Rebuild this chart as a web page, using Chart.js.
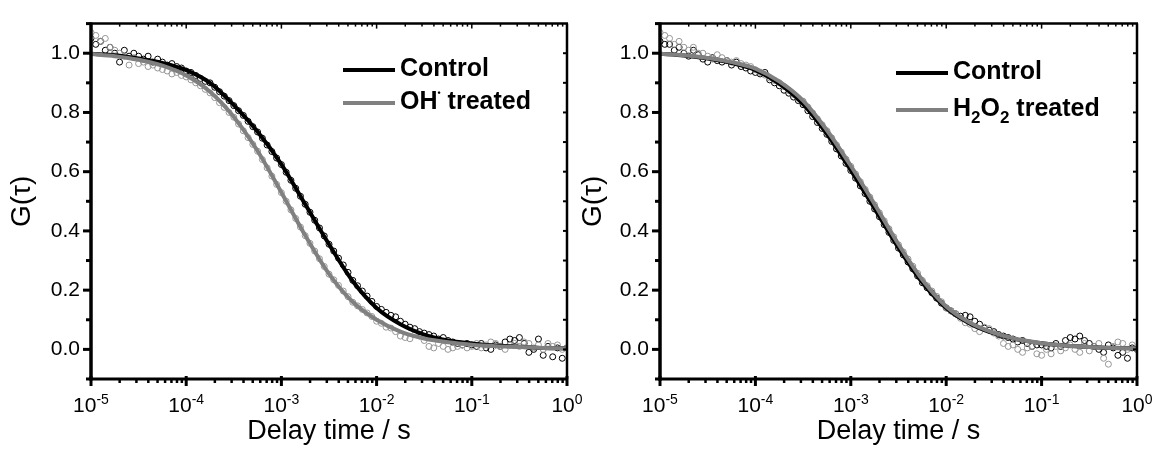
<!DOCTYPE html>
<html>
<head>
<meta charset="utf-8">
<script src="https://cdn.jsdelivr.net/npm/chart.js@4.4.0/dist/chart.umd.min.js"></script>
<style>
  html, body { margin: 0; padding: 0; background: #fff; }
  #wrap { position: relative; width: 1159px; height: 450px; }
  .panel { position: absolute; top: 0; height: 450px; }
  #left { left: 0; width: 600px; }
  #right { left: 579px; width: 580px; }
</style>
</head>
<body>
<div id="wrap">
  <div class="panel" id="left"><canvas id="chartLeft"></canvas></div>
  <div class="panel" id="right"><canvas id="chartRight"></canvas></div>
</div>
<script>
// 坐标轴刻度
const decadeTicks = [1e-5, 1e-4, 1e-3, 1e-2, 1e-1, 1];
const decadeExponents = ["-5", "-4", "-3", "-2", "-1", "0"];
const yTickValues = [0, 0.2, 0.4, 0.6, 0.8, 1.0];
const yTickLabels = ["0.0", "0.2", "0.4", "0.6", "0.8", "1.0"];

// 拟合曲线 (log10 延迟时间, 每 1/4 个数量级)
const fitLogTimes = [-5, -4.75, -4.5, -4.25, -4, -3.75, -3.5, -3.25, -3, -2.75, -2.5,
  -2.25, -2, -1.75, -1.5, -1.25, -1, -0.75, -0.5, -0.25, 0];
const leftControlFit = [0.998, 0.993, 0.982, 0.967, 0.943, 0.900, 0.825, 0.735, 0.625, 0.490, 0.355,
  0.230, 0.140, 0.085, 0.050, 0.030, 0.020, 0.013, 0.009, 0.005, 0.003];
const leftTreatedFit = [0.997, 0.990, 0.978, 0.958, 0.925, 0.870, 0.785, 0.670, 0.530, 0.385, 0.255,
  0.160, 0.100, 0.060, 0.037, 0.024, 0.016, 0.011, 0.008, 0.005, 0.003];
const rightControlFit = [0.998, 0.992, 0.982, 0.967, 0.943, 0.897, 0.828, 0.727, 0.605, 0.475, 0.343,
  0.226, 0.140, 0.087, 0.054, 0.033, 0.021, 0.013, 0.008, 0.005, 0.003];
const rightTreatedFit = [0.998, 0.993, 0.984, 0.970, 0.948, 0.905, 0.840, 0.740, 0.620, 0.490, 0.355,
  0.235, 0.145, 0.090, 0.056, 0.034, 0.021, 0.013, 0.008, 0.005, 0.003];

// 测量数据 (1e-5 .. 1 s, 每 0.05 个数量级一个点)
const dataLogStep = 0.05;
const leftControlData = [
  1.05, 1.03, 1.04, 1.01, 1.02, 1.00, 0.97, 1.01, 0.99, 1.00,
  0.99, 0.98, 0.99, 0.97, 0.98, 0.97, 0.96, 0.965, 0.955, 0.95,
  0.94, 0.935, 0.925, 0.915, 0.905, 0.90, 0.885, 0.87, 0.855, 0.84,
  0.823, 0.806, 0.79, 0.77, 0.752, 0.734, 0.713, 0.69, 0.668, 0.646,
  0.624, 0.598, 0.571, 0.544, 0.517, 0.49, 0.463, 0.436, 0.41, 0.383,
  0.355, 0.332, 0.308, 0.285, 0.26, 0.233, 0.215, 0.197, 0.18, 0.162,
  0.145, 0.135, 0.125, 0.115, 0.11, 0.095, 0.085, 0.075, 0.07, 0.06,
  0.055, 0.05, 0.045, 0.035, 0.04, 0.03, 0.025, 0.02, 0.015, 0.02,
  0.015, 0.01, 0.02, 0.005, 0.0, 0.015, 0.01, 0.025, 0.035, 0.03,
  0.04, 0.02, -0.01, 0.0, 0.035, -0.02, 0.01, -0.025, 0.005, -0.03,
  0.005];
const leftTreatedData = [
  1.07, 1.06, 1.04, 1.05, 1.02, 1.01, 1.0, 0.99, 0.96, 0.985,
  0.965, 0.97, 0.955, 0.96, 0.95, 0.945, 0.94, 0.93, 0.935, 0.925,
  0.92, 0.91, 0.90, 0.89, 0.878, 0.866, 0.85, 0.833, 0.817, 0.80,
  0.784, 0.761, 0.738, 0.715, 0.692, 0.669, 0.641, 0.613, 0.585, 0.557,
  0.529, 0.5, 0.471, 0.442, 0.413, 0.384, 0.358, 0.332, 0.306, 0.28,
  0.254, 0.235, 0.216, 0.197, 0.178, 0.159, 0.147, 0.135, 0.123, 0.111,
  0.095, 0.088, 0.075, 0.072, 0.06, 0.045, 0.04, 0.036, 0.05, 0.045,
  0.03, 0.01, 0.005, 0.02, 0.01, 0.0, 0.005, 0.01, 0.015, 0.005,
  0.01, 0.02, 0.005, 0.015, 0.025, 0.02, 0.01, 0.0, 0.015, 0.02,
  0.01, 0.025, 0.02, 0.005, 0.015, 0.0, 0.02, 0.01, 0.015, 0.0,
  0.005];
const rightControlData = [
  1.04, 1.03, 1.03, 1.01, 1.02, 1.0, 0.99, 1.01, 0.995, 0.98,
  0.97, 0.985, 0.975, 0.97, 0.975, 0.96, 0.97, 0.955, 0.95, 0.94,
  0.935, 0.93, 0.935, 0.91, 0.9, 0.89, 0.875, 0.865, 0.852, 0.84,
  0.826, 0.806, 0.786, 0.766, 0.746, 0.726, 0.702, 0.677, 0.653, 0.628,
  0.604, 0.578, 0.552, 0.526, 0.5, 0.474, 0.448, 0.421, 0.395, 0.368,
  0.342, 0.319, 0.295, 0.272, 0.248, 0.225, 0.208, 0.191, 0.173, 0.156,
  0.14, 0.13, 0.12, 0.112, 0.115, 0.11, 0.095, 0.085, 0.072, 0.065,
  0.06, 0.05, 0.045, 0.04, 0.035, 0.025, 0.03, 0.02, 0.01, 0.015,
  0.015, 0.01, 0.005, 0.02, 0.01, 0.03, 0.04, 0.035, 0.045, 0.03,
  0.02, 0.01, 0.0, -0.01, 0.015, 0.005, -0.02, -0.01, -0.03, 0.005,
  0.0];
const rightTreatedData = [
  1.07, 1.06, 1.05, 1.03, 1.04, 1.02, 1.01, 1.02, 1.0, 1.0,
  0.99, 0.98, 0.995, 0.985, 0.975, 0.97, 0.975, 0.965, 0.96, 0.955,
  0.944, 0.935, 0.926, 0.917, 0.908, 0.9, 0.887, 0.874, 0.861, 0.848,
  0.838, 0.818, 0.798, 0.778, 0.758, 0.738, 0.714, 0.69, 0.666, 0.642,
  0.618, 0.592, 0.566, 0.54, 0.514, 0.488, 0.461, 0.434, 0.407, 0.38,
  0.353, 0.329, 0.305, 0.281, 0.257, 0.233, 0.215, 0.197, 0.179, 0.161,
  0.14, 0.13, 0.12, 0.105, 0.09, 0.085, 0.07, 0.06, 0.075, 0.07,
  0.055, 0.045, 0.02, 0.01, 0.015, 0.0, -0.01, 0.005, 0.01, -0.015,
  -0.02, 0.0, -0.015, 0.01, -0.005, 0.005, 0.015, 0.0, -0.01, 0.02,
  -0.005, 0.01, 0.02, -0.03, -0.05, 0.01, 0.025, 0.02, 0.0, 0.015,
  0.0];

const FONT = "'Liberation Sans', Arial, sans-serif";
const BLACK = "#000000";
const GRAY = "rgb(128,128,128)";
const GRAY_DOT = "rgb(150,150,150)";

const fitTimes = fitLogTimes.map((e) => Math.pow(10, e));
const dataTimes = leftControlData.map((_, i) => Math.pow(10, -5 + i * dataLogStep));

function toPoints(xs, ys) {
  return ys.map((y, i) => ({ x: xs[i], y: y }));
}

// 画带上下标的文字
function drawRich(ctx, parts, x, y) {
  let cx = x;
  parts.forEach((p) => {
    ctx.font = p.font;
    ctx.fillText(p.text, cx, y + (p.dy || 0));
    cx += ctx.measureText(p.text).width;
  });
  return cx;
}

// 边框、刻度、x 轴标签和图例
function framePlugin(panel) {
  return {
    id: "frame",
    afterDraw(chart) {
      const { ctx, chartArea: a, scales } = chart;
      const x = scales.x;
      const y = scales.y;
      ctx.save();
      ctx.strokeStyle = BLACK;
      ctx.fillStyle = BLACK;
      ctx.lineCap = "butt";

      function seg(x1, y1, x2, y2, w) {
        ctx.lineWidth = w;
        ctx.beginPath();
        ctx.moveTo(x1, y1);
        ctx.lineTo(x2, y2);
        ctx.stroke();
      }

      // 边框
      seg(a.left, a.top - 1, a.left, a.bottom + 1.5, 3.5);
      seg(a.left - 1.5, a.bottom, a.right + 1, a.bottom, 3);
      seg(a.left, a.top, a.right + 1, a.top, 2.5);
      seg(a.right, a.top, a.right, a.bottom, 2.5);

      // y 轴刻度
      for (let k = -1; k <= 11; k++) {
        const v = k / 10;
        const py = y.getPixelForValue(v);
        const major = k >= 0 && k % 2 === 0 && k <= 10;
        seg(a.left - (major ? 8 : 5), py, a.left, py, 3);
        if (k >= 0 && k <= 10) seg(a.right - 4, py, a.right, py, 2);
      }

      // x 轴刻度
      decadeTicks.forEach((t, i) => {
        const px = x.getPixelForValue(t);
        seg(px, a.bottom - 3, px, a.bottom + 7, 3);
        seg(px, a.top, px, a.top + 5, 1.5);
        if (i < decadeTicks.length - 1) {
          for (let m = 2; m <= 9; m++) {
            const mx = x.getPixelForValue(t * m);
            seg(mx, a.bottom, mx, a.bottom + 4, 2.5);
            seg(mx, a.top, mx, a.top + 3, 1.5);
          }
        }
      });

      // x 轴标签 10^n
      ctx.textBaseline = "alphabetic";
      ctx.textAlign = "left";
      decadeTicks.forEach((t, i) => {
        const px = x.getPixelForValue(t);
        ctx.font = "21px " + FONT;
        const w1 = ctx.measureText("10").width;
        ctx.font = "14px " + FONT;
        const w2 = ctx.measureText(decadeExponents[i]).width;
        const sx = px - (w1 + w2) / 2;
        drawRich(ctx, [
          { text: "10", font: "21px " + FONT },
          { text: decadeExponents[i], font: "14px " + FONT, dy: -8 },
        ], sx, a.bottom + 33);
      });

      // 图例
      ctx.textBaseline = "middle";
      panel.legend.forEach((item) => {
        ctx.strokeStyle = item.color;
        seg(panel.legendX, item.y, panel.legendX + 52, item.y, 4);
        ctx.fillStyle = BLACK;
        drawRich(ctx, item.parts, panel.legendX + 57, item.y - 1);
      });
      ctx.restore();
    },
  };
}

function buildPanel(canvasId, panel) {
  const ctx = document.getElementById(canvasId).getContext("2d");
  return new Chart(ctx, {
    type: "scatter",
    data: {
      datasets: [
        {
          label: panel.legend[1].label + " fit",
          data: toPoints(fitTimes, panel.treatedFit),
          showLine: true,
          borderColor: GRAY,
          borderWidth: 4,
          pointRadius: 0,
          cubicInterpolationMode: "monotone",
          order: 0,
        },
        {
          label: "Control fit",
          data: toPoints(fitTimes, panel.controlFit),
          showLine: true,
          borderColor: BLACK,
          borderWidth: 4,
          pointRadius: 0,
          cubicInterpolationMode: "monotone",
          order: 1,
        },
        {
          label: panel.legend[1].label,
          data: toPoints(dataTimes, panel.treatedData),
          pointRadius: 3,
          pointBorderWidth: 1,
          borderColor: GRAY_DOT,
          backgroundColor: "rgba(255,255,255,0)",
          order: 2,
        },
        {
          label: "Control",
          data: toPoints(dataTimes, panel.controlData),
          pointRadius: 3,
          pointBorderWidth: 1,
          borderColor: BLACK,
          backgroundColor: "rgba(255,255,255,0)",
          order: 3,
        },
      ],
    },
    options: {
      responsive: true,
      maintainAspectRatio: false,
      animation: false,
      layout: { padding: { top: 12, right: panel.padRight, left: 0, bottom: 0 } },
      plugins: {
        legend: { display: false },
        tooltip: { enabled: false },
      },
      scales: {
        x: {
          type: "logarithmic",
          min: 1e-5,
          max: 1,
          afterBuildTicks: (axis) => {
            axis.ticks = decadeTicks.map((v) => ({ value: v }));
          },
          ticks: { display: false },
          grid: { display: false, drawTicks: false },
          border: { display: false },
          title: {
            display: true,
            text: "Delay time / s",
            color: BLACK,
            font: { family: FONT, size: 27 },
            padding: { top: 0, bottom: 2 },
          },
          afterFit: (axis) => {
            axis.height = 71;
          },
        },
        y: {
          min: -0.1,
          max: 1.1,
          afterBuildTicks: (axis) => {
            axis.ticks = yTickValues.map((v) => ({ value: v }));
          },
          ticks: {
            color: BLACK,
            font: { family: FONT, size: 21 },
            padding: 11,
            callback: (value, index) => yTickLabels[index],
          },
          grid: { display: false, drawTicks: false },
          border: { display: false },
          title: {
            display: true,
            text: "G(τ)",
            color: BLACK,
            font: { family: FONT, size: 28, lineHeight: 1 },
            padding: { top: panel.titlePad, bottom: 0 },
          },
          afterFit: (axis) => {
            axis.width = panel.axisWidth;
          },
        },
      },
    },
    plugins: [framePlugin(panel)],
  });
}

const boldFont = "bold 25px " + FONT;

buildPanel("chartLeft", {
  controlFit: leftControlFit,
  treatedFit: leftTreatedFit,
  controlData: leftControlData,
  treatedData: leftTreatedData,
  axisWidth: 91,
  padRight: 33,
  titlePad: 8,
  legendX: 343,
  legend: [
    { label: "Control", color: BLACK, y: 70, parts: [{ text: "Control", font: boldFont }] },
    {
      label: "OH· treated",
      color: GRAY,
      y: 103,
      parts: [
        { text: "OH", font: boldFont },
        { text: "•", font: "bold 9px " + FONT, dy: -8 },
        { text: " treated", font: boldFont },
      ],
    },
  ],
});

buildPanel("chartRight", {
  controlFit: rightControlFit,
  treatedFit: rightTreatedFit,
  controlData: rightControlData,
  treatedData: rightTreatedData,
  axisWidth: 81,
  padRight: 22,
  titlePad: 0,
  legendX: 317,
  legend: [
    { label: "Control", color: BLACK, y: 73, parts: [{ text: "Control", font: boldFont }] },
    {
      label: "H2O2 treated",
      color: GRAY,
      y: 110,
      parts: [
        { text: "H", font: boldFont },
        { text: "2", font: "bold 17px " + FONT, dy: 9 },
        { text: "O", font: boldFont },
        { text: "2", font: "bold 17px " + FONT, dy: 9 },
        { text: " treated", font: boldFont },
      ],
    },
  ],
});
</script>
</body>
</html>
